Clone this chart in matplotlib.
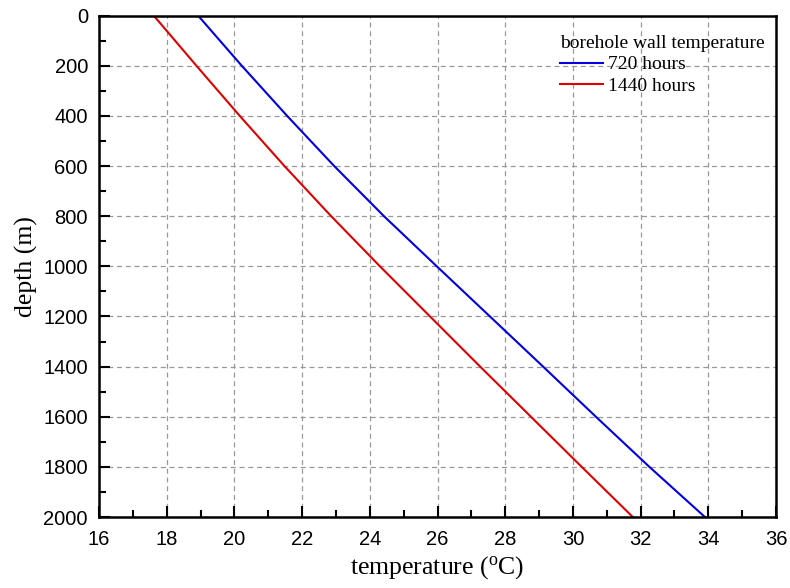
import matplotlib.pyplot as plt
from matplotlib.ticker import MultipleLocator

plt.rcParams['mathtext.fontset'] = 'custom'
plt.rcParams['mathtext.rm'] = 'Liberation Serif'

# depth (m) and borehole wall temperature (C)
depth = [0, 200, 400, 600, 800, 1000, 1200, 1400, 1600, 1800, 2000]
temp_720 = [18.93, 20.22, 21.56, 22.95, 24.42, 25.98, 27.55, 29.12, 30.68, 32.26, 33.90]
temp_1440 = [17.62, 18.88, 20.16, 21.48, 22.86, 24.30, 25.78, 27.26, 28.76, 30.26, 31.77]

series_labels = ["720 hours", "1440 hours"]
legend_title = "borehole wall temperature"

fig = plt.figure(figsize=(7.9, 5.88), dpi=100)
ax = fig.add_axes([0.1253, 0.1207, 0.857, 0.8526])

ax.plot(temp_720, depth, color='#0000e0', lw=1.5, label=series_labels[0])
ax.plot(temp_1440, depth, color='#e00000', lw=1.5, label=series_labels[1])

ax.set_xlim(16, 36)
ax.set_ylim(2000, 0)
ax.xaxis.set_major_locator(MultipleLocator(2))
ax.xaxis.set_minor_locator(MultipleLocator(1))
ax.yaxis.set_major_locator(MultipleLocator(200))
ax.yaxis.set_minor_locator(MultipleLocator(100))

ax.grid(True, which='major', color='#999999', ls=(0, (4, 3)), lw=0.9)
ax.tick_params(which='both', direction='in', top=False, right=False, width=1.5)
ax.tick_params(which='major', length=8, labelsize=14.5)
ax.tick_params(axis='y', which='major', pad=8)
ax.tick_params(axis='x', which='major', pad=9)
ax.tick_params(which='minor', length=5)
for lab in ax.get_xticklabels() + ax.get_yticklabels():
    lab.set_family('Liberation Sans')
for s in ax.spines.values():
    s.set_linewidth(1.8)

ax.set_xlabel(r'temperature ($\mathrm{^{o}}$C)', family='Liberation Serif', fontsize=18.5, labelpad=4)
ax.set_ylabel('depth (m)', family='Liberation Serif', fontsize=18.5, labelpad=4)

leg = ax.legend(title=legend_title, loc='upper right', bbox_to_anchor=(1.0, 0.985),
                frameon=False, alignment='left', handlelength=2.2, handletextpad=0.3,
                labelspacing=0.2, borderaxespad=0.2,
                prop={'family': 'Liberation Serif', 'size': 14})
leg.get_title().set_family('Liberation Serif')
leg.get_title().set_fontsize(14)

fig.savefig('out.png', dpi=100)
